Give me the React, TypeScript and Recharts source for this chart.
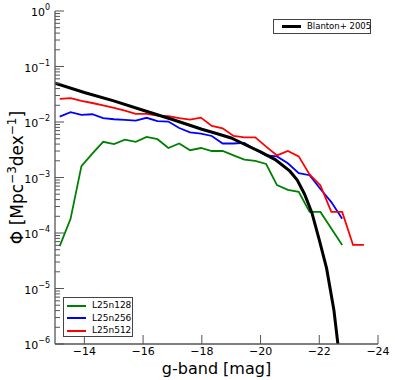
import { LineChart, Line, XAxis, YAxis } from "recharts";

// absolute g-band magnitude of each simulation bin
const mags = [
	-13.16, -13.53, -13.9, -14.27, -14.64, -15.01, -15.38, -15.75, -16.12, -16.49,
	-16.86, -17.23, -17.6, -17.97, -18.34, -18.71, -19.08, -19.45, -19.82, -20.19,
	-20.56, -20.93, -21.3, -21.67, -22.04, -22.41, -22.78, -23.15, -23.52,
];

const n128 = [
	5.8e-5, 1.8e-4, 1.6e-3, 2.7e-3, 4.4e-3, 4.0e-3, 4.8e-3, 4.4e-3, 5.4e-3, 4.9e-3,
	3.4e-3, 4.1e-3, 3.1e-3, 3.4e-3, 3.0e-3, 3.0e-3, 2.5e-3, 2.1e-3, 2.0e-3, 1.75e-3,
	7.3e-4, 6.0e-4, 5.5e-4, 2.4e-4, 2.4e-4, 1.2e-4, 6.1e-5,
];

const n256 = [
	1.25e-2, 1.5e-2, 1.34e-2, 1.38e-2, 1.17e-2, 1.12e-2, 1.09e-2, 1.06e-2, 1.19e-2, 1.04e-2,
	1.02e-2, 7.8e-3, 6.5e-3, 6.2e-3, 5.6e-3, 4.1e-3, 4.1e-3, 4.2e-3, 3.2e-3, 2.5e-3,
	2.4e-3, 1.8e-3, 1.2e-3, 1.1e-3, 6.2e-4, 3.6e-4, 1.8e-4,
];

const n512 = [
	2.6e-2, 2.7e-2, 2.4e-2, 2.2e-2, 2.0e-2, 1.8e-2, 1.6e-2, 1.4e-2, 1.4e-2, 1.3e-2,
	1.28e-2, 1.17e-2, 1.1e-2, 1.2e-2, 8.5e-3, 7.7e-3, 5.6e-3, 5.3e-3, 5.3e-3, 3.6e-3,
	2.5e-3, 3.0e-3, 2.4e-3, 1.14e-3, 7.2e-4, 2.4e-4, 2.4e-4, 6.1e-5, 6.1e-5,
];

const blantonMag = [
	-13, -14, -15, -16, -17, -18, -18.5, -19, -19.5, -20, -20.5, -21, -21.25, -21.5,
	-21.75, -22, -22.25, -22.5, -22.75,
];
const blantonPhi = [
	5.0e-2, 3.4e-2, 2.4e-2, 1.63e-2, 1.11e-2, 7.4e-3, 6.2e-3, 5.15e-3, 3.85e-3, 2.9e-3,
	2.1e-3, 1.3e-3, 9.0e-4, 5.0e-4, 2.3e-4, 7.5e-5, 2.3e-5, 4.0e-6, 3.0e-7,
];

const xTicks = [-14, -16, -18, -20, -22, -24];
const decades = [-6, -5, -4, -3, -2, -1, 0];

const sims = [
	{ name: "L25n128", color: "#008000", phi: n128 },
	{ name: "L25n256", color: "#0000ff", phi: n256 },
	{ name: "L25n512", color: "#ff0000", phi: n512 },
];
const blanton = { name: "Blanton+ 2005", color: "#000000" };

const toRows = (xs: number[], ys: number[]) => ys.map((phi, i) => ({ mag: xs[i], phi }));
const blantonRows = toRows(blantonMag, blantonPhi);

// decade ticks plus the 2..9 minor ticks between them
const yTicks: number[] = [];
decades.forEach((d) => {
	yTicks.push(Math.pow(10, d));
	if (d < 0) for (let k = 2; k <= 9; k++) yTicks.push(k * Math.pow(10, d));
});

const AXIS = "#555";
const FONT = "DejaVu Sans, sans-serif";

const isMajor = (v: number) => Math.abs(Math.log10(v) - Math.round(Math.log10(v))) < 1e-6;

function LeftTick({ x, y, payload }: any) {
	const v = payload.value;
	const ax = x + 5;
	const len = isMajor(v) ? 9 : 5;
	return (
		<g>
			<line x1={ax} x2={ax + len} y1={y} y2={y} stroke={AXIS} strokeWidth={1} />
			{isMajor(v) && (
				<text x={x} y={y + 5} textAnchor="end" fontSize={11} fontFamily={FONT} fill="#000">
					<tspan>10</tspan>
					<tspan dy={-6} fontSize={8}>
						{Math.round(Math.log10(v)) === 0 ? "0" : "\u2212" + Math.abs(Math.round(Math.log10(v)))}
					</tspan>
				</text>
			)}
		</g>
	);
}

function RightTick({ x, y, payload }: any) {
	const len = isMajor(payload.value) ? 9 : 5;
	return <line x1={x} x2={x - len} y1={y} y2={y} stroke={AXIS} strokeWidth={1} />;
}

function BottomTick({ x, y, payload }: any) {
	return (
		<g>
			<line x1={x} x2={x} y1={y} y2={y - 9} stroke={AXIS} strokeWidth={1} />
			<text x={x} y={y + 11} textAnchor="middle" fontSize={11} fontFamily={FONT} fill="#000">
				{"\u2212" + Math.abs(payload.value)}
			</text>
		</g>
	);
}

function TopTick({ x, y }: any) {
	return <line x1={x} x2={x} y1={y} y2={y + 9} stroke={AXIS} strokeWidth={1} />;
}

const legendBox = {
	position: "absolute" as const,
	background: "#fff",
	border: "1px solid #444",
	fontFamily: FONT,
	color: "#000",
	boxSizing: "border-box" as const,
	whiteSpace: "nowrap" as const,
};

function Swatch({ color, width }: { color: string; width: number }) {
	return <span style={{ display: "inline-block", width: 19, height: width, background: color, marginRight: 6, verticalAlign: "middle" }} />;
}

export default function App() {
	return (
		<div style={{ position: "absolute", left: 0, top: 0, width: 395, height: 380 }}>
			<LineChart width={395} height={380} data={blantonRows} margin={{ top: 11, right: 17, bottom: 0, left: 0 }}>
				<XAxis
					xAxisId="b"
					dataKey="mag"
					type="number"
					domain={[-24, -13]}
					reversed
					allowDataOverflow
					ticks={xTicks}
					interval={0}
					height={36}
					tickSize={0}
					tickMargin={0}
					tickLine={false}
					tick={<BottomTick />}
					axisLine={{ stroke: AXIS, strokeWidth: 1.3 }}
					label={{
						content: ({ viewBox }: any) => (
							<text x={viewBox.x + viewBox.width / 2} y={viewBox.y + 30} textAnchor="middle" fontSize={16} fontFamily={FONT} fill="#000">
								g-band [mag]
							</text>
						),
					}}
				/>
				<XAxis
					xAxisId="t"
					orientation="top"
					dataKey="mag"
					type="number"
					domain={[-24, -13]}
					reversed
					allowDataOverflow
					ticks={xTicks}
					interval={0}
					height={0}
					tickSize={0}
					tickMargin={0}
					tickLine={false}
					tick={<TopTick />}
					axisLine={{ stroke: AXIS, strokeWidth: 1.3 }}
				/>
				<YAxis
					yAxisId="l"
					scale="log"
					type="number"
					domain={[1e-6, 1]}
					allowDataOverflow
					ticks={yTicks}
					interval={0}
					width={55}
					tickSize={0}
					tickMargin={5}
					tickLine={false}
					tick={<LeftTick />}
					axisLine={{ stroke: AXIS, strokeWidth: 1.3 }}
					label={{
						content: ({ viewBox }: any) => {
							const cx = 23;
							const cy = viewBox.y + viewBox.height / 2;
							return (
								<text x={cx} y={cy} transform={`rotate(-90 ${cx} ${cy})`} textAnchor="middle" fontSize={17} fontFamily={FONT} fill="#000">
									<tspan>{"\u03A6 [Mpc"}</tspan>
									<tspan dy={-7} fontSize={12}>{"\u22123"}</tspan>
									<tspan dy={7}>dex</tspan>
									<tspan dy={-7} fontSize={12}>{"\u22121"}</tspan>
									<tspan dy={7}>{"]"}</tspan>
								</text>
							);
						},
					}}
				/>
				<YAxis
					yAxisId="r"
					orientation="right"
					scale="log"
					type="number"
					domain={[1e-6, 1]}
					allowDataOverflow
					ticks={yTicks}
					interval={0}
					width={0}
					tickSize={0}
					tickMargin={0}
					tickLine={false}
					tick={<RightTick />}
					axisLine={{ stroke: AXIS, strokeWidth: 1.3 }}
				/>
				{sims.map((s) => (
					<Line
						key={s.name}
						xAxisId="b"
						yAxisId="l"
						data={toRows(mags, s.phi)}
						dataKey="phi"
						type="linear"
						stroke={s.color}
						strokeWidth={1.8}
						dot={false}
						isAnimationActive={false}
					/>
				))}
				<Line
					xAxisId="b"
					yAxisId="l"
					data={blantonRows}
					dataKey="phi"
					type="linear"
					stroke={blanton.color}
					strokeWidth={3}
					dot={false}
					isAnimationActive={false}
				/>
			</LineChart>
			<div style={{ ...legendBox, left: 273, top: 19, width: 98, height: 15, padding: "0 0 0 8px", fontSize: 8.5, lineHeight: "13px" }}>
				<Swatch color={blanton.color} width={3} />
				<span style={{ verticalAlign: "middle" }}>{blanton.name}</span>
			</div>
			<div style={{ ...legendBox, left: 63, top: 297, width: 70, height: 40, padding: "1px 0 0 3px", fontSize: 9 }}>
				{sims.map((s) => (
					<div key={s.name} style={{ height: 12.6, lineHeight: "12.6px" }}>
						<Swatch color={s.color} width={2} />
						<span style={{ verticalAlign: "middle" }}>{s.name}</span>
					</div>
				))}
			</div>
		</div>
	);
}
